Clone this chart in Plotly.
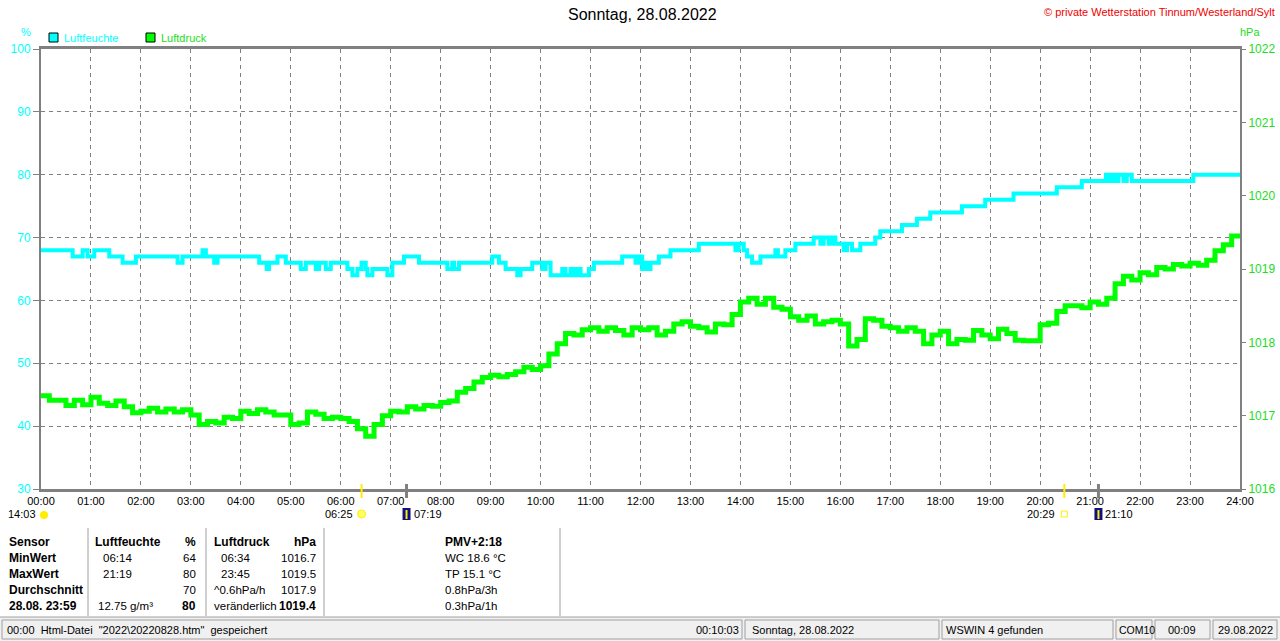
import plotly.graph_objects as go

# Luftfeuchte (%): Zeitpunkte, an denen sich der Wert ändert
hum_times = ["00:00", "00:38", "00:50", "00:56", "01:04", "01:22", "01:38", "01:54",
             "02:44", "02:50", "03:14", "03:18", "03:28", "03:32", "04:22", "04:31",
             "04:34", "04:44", "04:54", "05:12", "05:18", "05:30", "05:34", "05:42",
             "05:48", "06:08", "06:14", "06:20", "06:25", "06:30", "06:32", "06:38",
             "06:56", "07:02", "07:16", "07:34", "08:08", "08:14", "08:16", "08:22",
             "09:02", "09:10", "09:18", "09:32", "09:36", "09:50", "10:02", "10:06",
             "10:12", "10:26", "10:30", "10:36", "10:40", "10:44", "10:48", "10:58",
             "11:04", "11:38", "11:54", "11:58", "12:02", "12:06", "12:08", "12:12",
             "12:22", "12:36", "13:10", "13:54", "13:58", "14:04", "14:08", "14:14",
             "14:24", "14:42", "14:45", "14:54", "15:06", "15:28", "15:36", "15:40",
             "15:46", "15:50", "15:54", "16:04", "16:08", "16:14", "16:24", "16:42",
             "16:48", "17:14", "17:32", "17:48", "18:26", "18:54", "19:28", "20:20",
             "20:50", "21:19", "21:22", "21:26", "21:30", "21:34", "21:40", "21:44",
             "21:50", "21:56", "23:04", "24:00"]
hum_values = [68, 67, 68, 67, 68, 67, 66, 67,
              66, 67, 68, 67, 66, 67, 66, 65,
              66, 67, 66, 65, 66, 65, 66, 65,
              66, 65, 64, 65, 66, 65, 64, 65,
              64, 66, 67, 66, 65, 66, 65, 66,
              67, 66, 65, 64, 65, 66, 65, 66,
              64, 65, 64, 65, 64, 65, 64, 65,
              66, 67, 66, 67, 65, 66, 65, 66,
              67, 68, 69, 68, 69, 68, 67, 66,
              67, 68, 67, 68, 69, 70, 69, 70,
              69, 70, 69, 68, 69, 68, 69, 70,
              71, 72, 73, 74, 75, 76, 77, 78,
              79, 80, 79, 80, 79, 80, 79, 80,
              79, 79, 80, 80]

# Luftdruck (hPa) alle 10 Minuten ab 00:00
press_step_min = 10
press_values = [
    1017.27, 1017.21, 1017.21, 1017.14, 1017.21, 1017.15, 1017.25, 1017.17, 1017.14, 1017.20, 1017.12, 1017.04,
    1017.06, 1017.10, 1017.05, 1017.09, 1017.05, 1017.08, 1017.01, 1016.88, 1016.92, 1016.90, 1016.98, 1016.96,
    1017.06, 1017.03, 1017.08, 1017.05, 1017.01, 1017.01, 1016.88, 1016.90, 1017.05, 1017.02, 1016.96, 1016.98,
    1016.96, 1016.92, 1016.82, 1016.72, 1016.88, 1017.00, 1017.06, 1017.05, 1017.12, 1017.09, 1017.14, 1017.13,
    1017.18, 1017.20, 1017.32, 1017.37, 1017.46, 1017.52, 1017.55, 1017.53, 1017.56, 1017.60, 1017.66, 1017.63,
    1017.68, 1017.84, 1017.98, 1018.12, 1018.10, 1018.17, 1018.20, 1018.15, 1018.20, 1018.16, 1018.10, 1018.20,
    1018.17, 1018.20, 1018.10, 1018.15, 1018.25, 1018.28, 1018.22, 1018.20, 1018.14, 1018.25, 1018.24, 1018.38,
    1018.55, 1018.60, 1018.52, 1018.60, 1018.48, 1018.45, 1018.35, 1018.30, 1018.36, 1018.25, 1018.28, 1018.30,
    1018.25, 1017.95, 1018.04, 1018.32, 1018.30, 1018.22, 1018.20, 1018.15, 1018.20, 1018.15, 1017.98, 1018.10,
    1018.15, 1017.98, 1018.04, 1018.03, 1018.16, 1018.10, 1018.05, 1018.18, 1018.12, 1018.03, 1018.02, 1018.02,
    1018.24, 1018.26, 1018.42, 1018.50, 1018.50, 1018.47, 1018.55, 1018.52, 1018.60, 1018.80, 1018.90, 1018.85,
    1018.95, 1018.92, 1019.02, 1019.00, 1019.06, 1019.04, 1019.08, 1019.05, 1019.12, 1019.25, 1019.33, 1019.45,
    1019.42]

hour_labels = ["%02d:00" % h for h in range(25)]
hum_ticks = [30, 40, 50, 60, 70, 80, 90, 100]
press_ticks = [1016, 1017, 1018, 1019, 1020, 1021, 1022]

# Sonnen- und Mondzeiten unter der Achse
sun_times = ["06:25", "20:29"]
moon_times = ["07:19", "21:10"]
moon_culm = "14:03"

# Tabelle unten
tab_sensor = ["Sensor", "MinWert", "MaxWert", "Durchschnitt", "28.08. 23:59"]
tab_hum_info = ["Luftfeuchte", "06:14", "21:19", "", "12.75 g/m³"]
tab_hum_val = ["%", "64", "80", "70", "80"]
tab_press_info = ["Luftdruck", "06:34", "23:45", "^0.6hPa/h", "veränderlich"]
tab_press_val = ["hPa", "1016.7", "1019.5", "1017.9", "1019.4"]
tab_extra = ["PMV+2:18", "WC 18.6 °C", "TP 15.1 °C", "0.8hPa/3h", "0.3hPa/1h"]

status_texts = ['00:00  Html-Datei  "2022\\20220828.htm"  gespeichert', "00:10:03",
                "Sonntag, 28.08.2022", "WSWIN 4 gefunden", "COM10", "00:09", "29.08.2022"]

CYAN = "#00ffff"
GREEN = "#00ff00"
GREEN_TXT = "#22dd22"
GRAY = "#808080"
FONT = "Liberation Sans, Arial, sans-serif"

W, H = 1280, 641
L, T, PW, PH = 41, 49, 1199, 440


def to_h(s):
    h, m = s.split(":")
    return int(h) + int(m) / 60.0


def fx(x):
    return (x - L) / PW


def fy(y):
    return (T + PH - y) / PH


hum_x = [to_h(t) for t in hum_times]
press_x = [i * press_step_min / 60.0 for i in range(len(press_values))]

fig = go.Figure()
fig.add_trace(go.Scatter(x=hum_x, y=hum_values, mode="lines", line_shape="hv",
                         line=dict(color=CYAN, width=4), name="Luftfeuchte"))
fig.add_trace(go.Scatter(x=press_x, y=press_values, mode="lines", line_shape="hv",
                         line=dict(color=GREEN, width=5), name="Luftdruck", yaxis="y2"))

annots = []
shapes = []


def txt(s, x, y, anchor="left", size=11, color="black", bold=False):
    if bold:
        s = "<b>" + s + "</b>"
    annots.append(dict(text=s, x=fx(x), y=fy(y), xref="paper", yref="paper",
                       xanchor=anchor, yanchor="middle", showarrow=False,
                       font=dict(family=FONT, size=size, color=color)))


# Kopfzeile
txt("Sonntag, 28.08.2022", 642, 15, "center", size=16)
txt("© private Wetterstation Tinnum/Westerland/Sylt", 1277, 12, "right", color="#ee0000")
txt("%", 26, 32, "center", size=11, color=CYAN)
txt("hPa", 1250, 32, "center", size=11, color=GREEN_TXT)
txt("Luftfeuchte", 62, 38, color=CYAN)
txt("Luftdruck", 159, 38, color=GREEN_TXT)
for x0, c in [(49, CYAN), (146, GREEN)]:
    shapes.append(dict(type="rect", xref="paper", yref="paper", x0=fx(x0), x1=fx(x0 + 9),
                       y0=fy(42), y1=fy(33), fillcolor=c, line=dict(color="black", width=1)))

# Sonnen- / Mondmarken
for t in sun_times:
    shapes.append(dict(type="line", xref="x", yref="paper", x0=to_h(t), x1=to_h(t),
                       y0=fy(498), y1=fy(484), line=dict(color="#ffee00", width=2)))
for t in moon_times:
    shapes.append(dict(type="line", xref="x", yref="paper", x0=to_h(t), x1=to_h(t),
                       y0=fy(498), y1=fy(484), line=dict(color=GRAY, width=3)))

# Aufgang Sonne 06:25 und Untergang 20:29
shapes.append(dict(type="circle", xref="x", yref="paper", xsizemode="pixel", ysizemode="pixel",
                   xanchor=to_h(sun_times[0]), yanchor=fy(514), x0=-4, x1=4, y0=-4, y1=4,
                   fillcolor="#ffff66", line=dict(color="#ffee00", width=1)))
txt(sun_times[0], L + to_h(sun_times[0]) * PW / 24 - 7, 514, "right")
shapes.append(dict(type="rect", xref="x", yref="paper", xsizemode="pixel", ysizemode="pixel",
                   xanchor=to_h(sun_times[1]), yanchor=fy(514), x0=-3, x1=3, y0=-3, y1=3,
                   fillcolor="white", line=dict(color="#ffee00", width=1)))
txt(sun_times[1], L + to_h(sun_times[1]) * PW / 24 - 7, 514, "right")
for t in moon_times:
    shapes.append(dict(type="rect", xref="x", yref="paper", xsizemode="pixel", ysizemode="pixel",
                       xanchor=to_h(t), yanchor=fy(514), x0=-4, x1=4, y0=-6, y1=6,
                       fillcolor="#101080", line=dict(width=0)))
    shapes.append(dict(type="line", xref="x", yref="paper", xsizemode="pixel", ysizemode="pixel",
                       xanchor=to_h(t), yanchor=fy(514), x0=0, x1=0, y0=-5, y1=4,
                       line=dict(color="#ffee00", width=2)))
    txt(t, L + to_h(t) * PW / 24 + 5, 514, "left")
txt(moon_culm, 38, 514, "right")
shapes.append(dict(type="circle", xref="paper", yref="paper", x0=fx(40), x1=fx(48),
                   y0=fy(519), y1=fy(511), fillcolor="#ffee00", line=dict(width=0)))

# Tabelle (fett 12 px, normal 11.5 px)
rows_y = [542, 558, 574, 590, 606]


def tsize(b):
    return 12 if b else 11.5


for i, y in enumerate(rows_y):
    txt(tab_sensor[i], 7, y, size=12, bold=True)
    hx = 93 if i == 0 else (96 if i == 4 else 101)
    txt(tab_hum_info[i], hx, y, size=tsize(i == 0), bold=(i == 0))
    txt(tab_hum_val[i], 198, y, "right", size=tsize(i in (0, 4)), bold=(i in (0, 4)))
    px_ = 212 if i in (0, 3, 4) else 219
    txt(tab_press_info[i], px_, y, size=tsize(i == 0), bold=(i == 0))
    txt(tab_press_val[i], 318, y, "right", size=tsize(i in (0, 4)), bold=(i in (0, 4)))
    txt(tab_extra[i], 443, y, size=tsize(i == 0), bold=(i == 0))
for x0 in [88, 206, 324, 560]:
    shapes.append(dict(type="line", xref="paper", yref="paper", x0=fx(x0), x1=fx(x0),
                       y0=fy(616), y1=fy(528), line=dict(color="#a0a0a0", width=1)))

# Statusleiste
shapes.append(dict(type="rect", xref="paper", yref="paper", x0=fx(0), x1=fx(W),
                   y0=fy(641), y1=fy(617), fillcolor="#f0f0f0", line=dict(width=0), layer="below"))
shapes.append(dict(type="line", xref="paper", yref="paper", x0=fx(0), x1=fx(W),
                   y0=fy(617), y1=fy(617), line=dict(color="#a0a0a0", width=1)))
panels = [(2, 742), (745, 939), (942, 1113), (1116, 1152), (1155, 1210), (1213, 1277)]
for a, b in panels:
    shapes.append(dict(type="rect", xref="paper", yref="paper", x0=fx(a), x1=fx(b),
                       y0=fy(639), y1=fy(620), line=dict(color="#a0a0a0", width=1)))
txt(status_texts[0], 5, 629.5)
txt(status_texts[1], 741, 629.5, "right")
txt(status_texts[2], 750, 629.5)
txt(status_texts[3], 944, 629.5)
txt(status_texts[4], 1117, 629.5, size=10.5)
txt(status_texts[5], 1182, 629.5, "center")
txt(status_texts[6], 1216, 629.5)

fig.update_layout(
    width=W, height=H,
    margin=dict(l=L, r=W - L - PW, t=T, b=H - T - PH, autoexpand=False),
    paper_bgcolor="white", plot_bgcolor="white",
    showlegend=False,
    font=dict(family=FONT, size=11, color="black"),
    xaxis=dict(range=[0, 24], tickvals=list(range(25)), ticktext=hour_labels,
               showgrid=True, gridcolor=GRAY, griddash="4px,4px", gridwidth=1,
               showline=True, linecolor=GRAY, linewidth=3, mirror=True,
               ticks="", tickfont=dict(size=11, color="black"), zeroline=False),
    yaxis=dict(range=[30, 100], tickvals=hum_ticks, showgrid=True, gridcolor=GRAY,
               griddash="4px,4px", gridwidth=1, showline=True, linecolor=GRAY, linewidth=2,
               ticks="outside", ticklen=6, tickcolor=GRAY, tickwidth=1,
               tickfont=dict(size=12, color=CYAN), zeroline=False),
    yaxis2=dict(range=[1016, 1022], tickvals=press_ticks, overlaying="y", side="right",
                showgrid=False, showline=True, linecolor=GRAY, linewidth=2,
                ticks="outside", ticklen=4, tickcolor=GRAY, tickwidth=1,
                tickfont=dict(size=12, color=GREEN_TXT), zeroline=False),
    annotations=annots,
    shapes=shapes,
)

# Seitenrand entfernen, damit die Grafik das Fenster genau füllt
fig.write_html("out.html", config={"displayModeBar": False},
               post_script="document.body.style.margin='0';document.body.style.overflow='hidden';")
